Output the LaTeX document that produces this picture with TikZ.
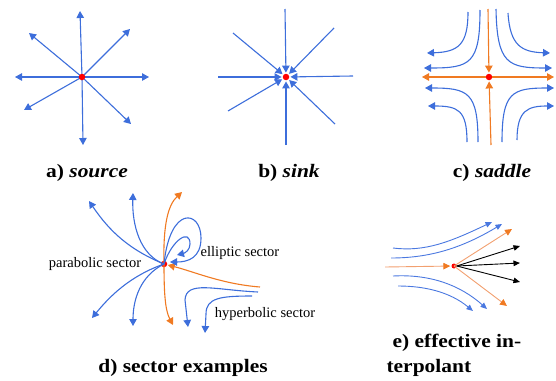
\documentclass[tikz,border=0pt]{standalone}
\usepackage{fontspec}
\setmainfont{Liberation Serif}
\newfontfamily\capfont[FakeStretch=1.13]{Liberation Serif}
\usetikzlibrary{arrows.meta}
\definecolor{vblue}{HTML}{3D6EDB}
\definecolor{vorange}{HTML}{F07A22}
\definecolor{lorange}{HTML}{F2A070}
\definecolor{lblue}{HTML}{4A78E0}
\tikzset{
  flow/.style={line width=1.1pt},
  bl/.style={flow,draw=vblue,-{Triangle[length=7pt,width=7.5pt,fill=vblue]}},
  og/.style={flow,draw=vorange,-{Triangle[length=7pt,width=7.5pt,fill=vorange]}},
  lo/.style={line width=0.9pt,draw=lorange,-{Triangle[length=7pt,width=6.5pt,color=vorange,fill=vorange]}},
  lb/.style={line width=0.9pt,draw=lblue,-{Triangle[length=6.5pt,width=5.5pt,fill=lblue]}},
  bk/.style={line width=0.9pt,draw=black,-{Triangle[length=6.5pt,width=5.5pt]}},
  crit/.style={circle,fill=red,inner sep=0pt,minimum size=6.5pt},
  captxt/.style={font=\capfont\fontsize{19}{22}\selectfont\bfseries},
  lab/.style={font=\fontsize{14.5}{17}\selectfont},
}
\begin{document}
\begin{tikzpicture}[x=1pt,y=-1pt]
\useasboundingbox (0,0) rectangle (556,380);
% ---------- a) source
\coordinate (a) at (82,77);
\foreach \p in {(80,11),(130,29),(149,77),(131,124),(83,145),(24,110),(15,77),(29,33)}
  \draw[bl] (a) -- \p;
\node[crit] (ca) at (a) {};
\node[captxt] (la) at (87,173) {a) \textit{source}};
% ---------- b) sink
\node[crit] (b) at (286,77) {};
\foreach \p in {(285,9),(334,28),(353,76),(335,124),(286,145),(228,111),(218,77),(233,33)}
  \draw[bl,shorten >=1pt] \p -- (b);
\node[captxt] (lb) at (289,173) {b) \textit{sink}};
% ---------- c) saddle
\node[crit] (c) at (489,77) {};
\draw[og,shorten >=1pt] (488,9) -- (c);
\draw[og,shorten >=1pt] (491,145) -- (c);
\draw[og] (c) -- (422,77);
\draw[og] (c) -- (554,77);
\draw[bl] (468,12) .. controls (468,45) and (458,52) .. (427,53);
\draw[bl] (480,10) .. controls (480,64) and (470,68) .. (424,68);
\draw[bl] (496,9) .. controls (497,64) and (508,68) .. (552,68);
\draw[bl] (508,13) .. controls (510,46) and (522,52) .. (550,53);
\draw[bl] (478,142) .. controls (478,92) and (468,88) .. (425,88);
\draw[bl] (467,142) .. controls (467,110) and (458,106) .. (428,106);
\draw[bl] (502,142) .. controls (502,92) and (512,88) .. (554,88);
\draw[bl] (517,140) .. controls (517,110) and (528,106) .. (554,106);
\node[captxt] (lc) at (492,173) {c) \textit{saddle}};
% ---------- d) sector examples
\node[crit] (d) at (164,264) {};
\draw[og] (d.center) .. controls (163,225) and (168,205) .. (182,192);
\draw[og] (d.center) .. controls (164,292) and (165,310) .. (173,325);
\draw[og,shorten >=0.5pt] (260,287) .. controls (222,284) and (195,272) .. (d);
\draw[bl] (d.center) .. controls (130,250) and (110,232) .. (89,201);
\draw[bl] (d.center) .. controls (140,255) and (132,225) .. (133,193);
\draw[bl] (d.center) .. controls (130,276) and (110,296) .. (92,318);
\draw[bl] (d.center) .. controls (140,276) and (133,300) .. (133,326);
\draw[bl] (d.center) .. controls (170,205) and (201,210) .. (201,238)
   .. controls (201,258) and (188,262) .. (170,262);
\draw[bl] (d.center) .. controls (172,240) and (190,228) .. (190,244)
   .. controls (190,250) and (185,253) .. (177,255);
\draw[bl] (258,292) .. controls (215,290) and (186,280) .. (185,300) -- (188,327);
\draw[bl] (252,296) .. controls (220,296) and (206,298) .. (206,314) -- (205,333);
\node[lab] (lpar) at (95,264) {parabolic sector};
\node[lab] (lell) at (240,253) {elliptic sector};
\node[lab] (lhyp) at (265,314) {hyperbolic sector};
\node[captxt] (ld) at (183,368) {d) sector examples};
% ---------- e) effective interpolant
\node[crit,minimum size=5pt] (e) at (454,266) {};
\draw[lo,shorten >=1pt] (385,267) -- (e);
\draw[lo] (e.center) -- (512,229);
\draw[lo] (e.center) -- (507,306);
\draw[bk] (e.east) -- (520,246);
\draw[bk] (e.east) -- (520,263);
\draw[bk] (e.east) -- (520,282);
\draw[lb] (393,248) .. controls (425,252) and (450,242) .. (492,222);
\draw[lb] (391,258) .. controls (430,258) and (462,248) .. (502,224);
\draw[lb] (393,276) .. controls (430,274) and (460,285) .. (487,309);
\draw[lb] (398,286) .. controls (425,286) and (450,292) .. (473,311);
\node[captxt,anchor=west] (le1) at (389,343) {e) effective in-};
\node[captxt,anchor=west] (le2) at (383,368) {terpolant};
\end{tikzpicture}
\end{document}
